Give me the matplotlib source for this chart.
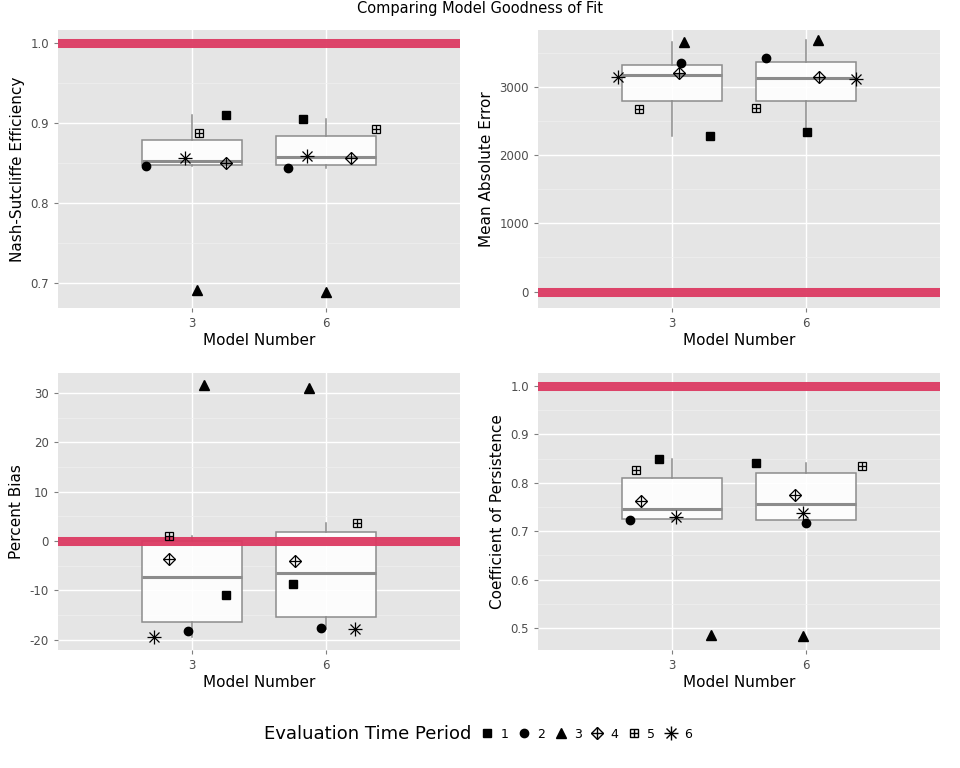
import numpy as np
import matplotlib
matplotlib.use('Agg')
import matplotlib.pyplot as plt
from matplotlib.lines import Line2D
from matplotlib.legend_handler import HandlerTuple

models = ['3', '6']
periods = [1, 2, 3, 4, 5, 6]

# values per model, ordered by evaluation period 1..6
nse_m3 = [0.911, 0.8466, 0.6917, 0.850, 0.8875, 0.856]
nse_m6 = [0.9054, 0.8445, 0.6888, 0.857, 0.8925, 0.8596]
mae_m3 = [2278, 3352, 3656, 3206, 2668, 3142]
mae_m6 = [2332, 3425, 3678, 3142, 2693, 3108]
pb_m3 = [-10.9, -18.3, 31.6, -3.6, 1.1, -19.5]
pb_m6 = [-8.8, -17.7, 31.0, -4.1, 3.7, -17.9]
cp_m3 = [0.850, 0.724, 0.486, 0.763, 0.826, 0.730]
cp_m6 = [0.842, 0.718, 0.484, 0.775, 0.835, 0.737]

# horizontal jitter as seen in the picture
jit_nse = ([0.25, -0.34, 0.04, 0.25, 0.05, -0.05], [-0.17, -0.28, 0.0, 0.19, 0.37, -0.14])
jit_mae = ([0.28, 0.07, 0.09, 0.05, -0.25, -0.40], [0.01, -0.30, 0.09, 0.10, -0.37, 0.37])
jit_pb = ([0.25, -0.03, 0.09, -0.17, -0.17, -0.28], [-0.25, -0.04, -0.13, -0.23, 0.23, 0.22])
jit_cp = ([-0.10, -0.31, 0.29, -0.23, -0.27, 0.03], [-0.37, 0.0, -0.02, -0.08, 0.42, -0.02])

panels = [
    ('Nash-Sutcliffe Efficiency', nse_m3, nse_m6, jit_nse, 1.0, (0.669, 1.0167),
     [0.7, 0.8, 0.9, 1.0], ['0.7', '0.8', '0.9', '1.0']),
    ('Mean Absolute Error', mae_m3, mae_m6, jit_mae, 0, (-240, 3830),
     [0, 1000, 2000, 3000], ['0', '1000', '2000', '3000']),
    ('Percent Bias', pb_m3, pb_m6, jit_pb, 0, (-22.1, 34.1),
     [-20, -10, 0, 10, 20, 30], ['-20', '-10', '0', '10', '20', '30']),
    ('Coefficient of Persistence', cp_m3, cp_m6, jit_cp, 1.0, (0.4545, 1.027),
     [0.5, 0.6, 0.7, 0.8, 0.9, 1.0], ['0.5', '0.6', '0.7', '0.8', '0.9', '1.0']),
]

BG = '#E5E5E5'
GRID_MINOR = '#F0F0F0'
REF = '#DC3A62'


def draw_marker(ax, x, y, p, ms=6, zorder=5):
    if p == 1:
        ax.plot(x, y, 's', color='black', ms=ms * 0.95, zorder=zorder)
    elif p == 2:
        ax.plot(x, y, 'o', color='black', ms=ms, zorder=zorder)
    elif p == 3:
        ax.plot(x, y, '^', color='black', ms=ms * 1.1, zorder=zorder)
    elif p == 4:
        ax.plot(x, y, 'D', mfc='none', mec='black', mew=0.9, ms=ms * 1.1, zorder=zorder)
        ax.plot(x, y, '+', color='black', mew=0.9, ms=ms * 1.45, zorder=zorder)
    elif p == 5:
        ax.plot(x, y, 's', mfc='none', mec='black', mew=0.9, ms=ms * 1.05, zorder=zorder)
        ax.plot(x, y, '+', color='black', mew=0.9, ms=ms * 1.05, zorder=zorder)
    elif p == 6:
        ax.plot(x, y, '+', color='black', mew=0.9, ms=ms * 1.6, zorder=zorder)
        ax.plot(x, y, 'x', color='black', mew=0.9, ms=ms * 1.15, zorder=zorder)


fig = plt.figure(figsize=(9.6, 7.68), dpi=100)
W, H = 960, 768
rects = [(58, 30, 460, 308), (538, 30, 940, 308), (58, 373, 460, 650), (538, 373, 940, 650)]

for (name, v3, v6, jit, ref, ylim, yt, ytl), (x0, y0, x1, y1) in zip(panels, rects):
    ax = fig.add_axes([x0 / W, 1 - y1 / H, (x1 - x0) / W, (y1 - y0) / H])
    ax.set_facecolor(BG)
    for s in ax.spines.values():
        s.set_visible(False)

    bp = ax.boxplot([v3, v6], positions=[1, 2], widths=0.75, showfliers=False,
                    patch_artist=True, whis=1.5, zorder=2)
    for b in bp['boxes']:
        b.set(facecolor=(1, 1, 1, 0.9), edgecolor='#8C8C8C', lw=1.1)
    for m in bp['medians']:
        m.set(color='#8C8C8C', lw=2.2)
    for w in bp['whiskers']:
        w.set(color='#8C8C8C', lw=1.1)
    for c in bp['caps']:
        c.set_visible(False)

    ax.set_xlim(0, 3)
    ax.set_ylim(*ylim)
    ax.set_yticks(yt)
    ax.set_yticklabels(ytl)
    minors = [(a + b) / 2 for a, b in zip(yt[:-1], yt[1:])]
    minors = [yt[0] - (yt[1] - yt[0]) / 2] + minors + [yt[-1] + (yt[1] - yt[0]) / 2]
    ax.set_yticks([m for m in minors if ylim[0] < m < ylim[1]], minor=True)
    ax.set_xticks([1, 2])
    ax.set_xticklabels(models)
    ax.grid(which='major', color='white', lw=1.0, zorder=0)
    ax.grid(which='minor', axis='y', color=GRID_MINOR, lw=0.5, zorder=0)
    ax.set_axisbelow(True)
    ax.tick_params(which='major', colors='#7F7F7F', labelsize=8.5, length=3, labelcolor='#4D4D4D')
    ax.tick_params(which='minor', length=0)
    ax.set_xlabel('Model Number', fontsize=11, labelpad=2)
    ax.set_ylabel(name, fontsize=11)

    ax.axhline(ref, color=REF, lw=6.5, alpha=0.95, zorder=3)

    for pos, vals, jj in [(1, v3, jit[0]), (2, v6, jit[1])]:
        for p, v, j in zip(periods, vals, jj):
            draw_marker(ax, pos + j, v, p)

fig.text(0.5, 1 - 8 / H, 'Comparing Model Goodness of Fit', ha='center', va='center', fontsize=10.5)


# legend
def mk(p):
    ms = 6
    if p == 1:
        return Line2D([], [], ls='none', marker='s', color='black', ms=ms * 0.9)
    if p == 2:
        return Line2D([], [], ls='none', marker='o', color='black', ms=ms)
    if p == 3:
        return Line2D([], [], ls='none', marker='^', color='black', ms=ms * 1.1)
    if p == 4:
        return (Line2D([], [], ls='none', marker='D', mfc='none', mec='black', ms=ms * 1.1),
                Line2D([], [], ls='none', marker='+', color='black', ms=ms * 1.45))
    if p == 5:
        return (Line2D([], [], ls='none', marker='s', mfc='none', mec='black', ms=ms),
                Line2D([], [], ls='none', marker='+', color='black', ms=ms))
    return (Line2D([], [], ls='none', marker='+', color='black', ms=ms * 1.6),
            Line2D([], [], ls='none', marker='x', color='black', ms=ms * 1.15))


handles = [mk(p) for p in periods]
fig.text(471 / W, 1 - 734 / H, 'Evaluation Time Period', ha='right', va='center', fontsize=13)
fig.legend(handles, [str(p) for p in periods], loc='center left',
           bbox_to_anchor=(468 / W, 1 - 734 / H), ncol=6, frameon=False,
           handler_map={tuple: HandlerTuple(ndivide=1, pad=0)},
           handlelength=1.3, handletextpad=0.4, columnspacing=0.6, fontsize=9)

fig.savefig('out.png', dpi=100)
